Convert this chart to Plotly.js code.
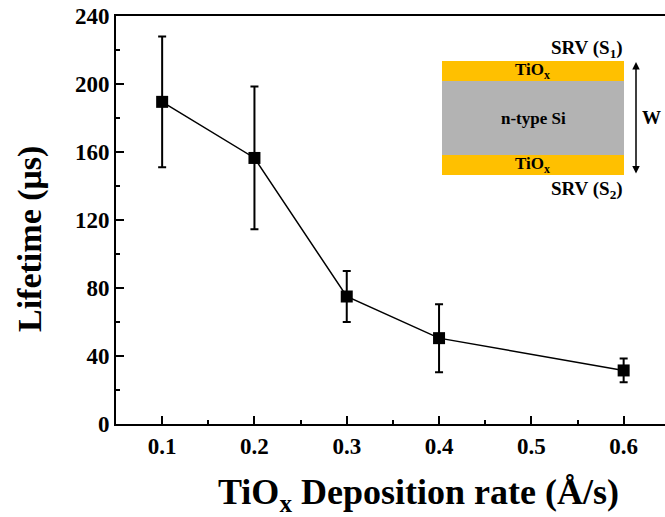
<!DOCTYPE html>
<html>
<head>
<meta charset="utf-8">
<script src="https://cdn.plot.ly/plotly-3.0.1.min.js"></script>
<style>
html,body{margin:0;padding:0;background:#fff;overflow:hidden;}
#chart{width:665px;height:517px;}
</style>
</head>
<body>
<div id="chart"></div>
<script>
// Data
var depositionRate = [0.1, 0.2, 0.3, 0.4, 0.6];
var lifetime = [189.5, 156.5, 75, 50.5, 31.5];
var lifetimeErr = [38.5, 42, 15, 20, 7];
var xTickVals = [0.1, 0.2, 0.3, 0.4, 0.5, 0.6];
var xTickText = ['0.1', '0.2', '0.3', '0.4', '0.5', '0.6'];
var yTickVals = [0, 40, 80, 120, 160, 200, 240];
var yTickText = ['0', '40', '80', '120', '160', '200', '240'];
var xTitle = 'TiO<sub>x</sub> Deposition rate (Å/s)';
var yTitle = 'Lifetime (μs)';

// Layout geometry (pixels)
var W = 665, H = 517;
var mL = 116, mT = 16, mB = 93, mR = 0;
var plotW = W - mL - mR, plotH = H - mT - mB;
function px(x) { return (x - mL) / plotW; }
function py(y) { return (H - mB - y) / plotH; }

var font = '"Liberation Serif", "Times New Roman", serif';
var orange = '#FFC000';
var grey = '#B3B3B3';

var trace = {
  x: depositionRate,
  y: lifetime,
  type: 'scatter',
  mode: 'lines+markers',
  line: {color: '#000', width: 1.5},
  marker: {symbol: 'square', size: 12, color: '#000'},
  error_y: {type: 'data', array: lifetimeErr, visible: true, color: '#000', thickness: 2, width: 4},
  showlegend: false,
  hoverinfo: 'skip'
};

var shapes = [
  {type: 'rect', xref: 'paper', yref: 'paper', x0: px(442), x1: px(624), y0: py(81), y1: py(61), fillcolor: orange, line: {width: 0}},
  {type: 'rect', xref: 'paper', yref: 'paper', x0: px(442), x1: px(624), y0: py(155), y1: py(81), fillcolor: grey, line: {width: 0}},
  {type: 'rect', xref: 'paper', yref: 'paper', x0: px(442), x1: px(624), y0: py(175), y1: py(155), fillcolor: orange, line: {width: 0}}
];

function lab(text, x, y, size, angle) {
  return {xref: 'paper', yref: 'paper', x: px(x), y: py(y), text: text, showarrow: false,
    textangle: angle || 0,
    xanchor: 'center', yanchor: 'middle', font: {family: font, size: size, color: '#000', weight: 'bold'}};
}

var annotations = [
  lab('SRV (S<sub>1</sub>)', 587, 49, 19),
  lab('TiO<sub>x</sub>', 532, 71, 17),
  lab('n-type Si', 533, 118, 17),
  lab('TiO<sub>x</sub>', 532, 165, 17),
  lab('SRV (S<sub>2</sub>)', 587, 190, 19),
  lab('W', 651, 117, 19),
  {xref: 'paper', yref: 'paper', x: px(636), y: py(62), ax: 0, ay: 113, axref: 'pixel', ayref: 'pixel',
   text: '', showarrow: true, arrowhead: 2, arrowside: 'end+start', arrowsize: 1, arrowwidth: 1.5, arrowcolor: '#000'},
  lab(xTitle, 419, 494, 36),
  lab(yTitle, 30, 239, 34, -90)
];

var layout = {
  width: W, height: H,
  margin: {l: mL, r: mR, t: mT, b: mB, pad: 0},
  paper_bgcolor: '#fff', plot_bgcolor: '#fff',
  xaxis: {
    range: [0.05, 0.6448],
    tickvals: xTickVals, ticktext: xTickText,
    ticks: 'inside', ticklen: 8, tickwidth: 2, tickcolor: '#000',
    minor: {dtick: 0.05, tick0: 0.05, ticks: 'inside', ticklen: 4, tickwidth: 2, tickcolor: '#000'},
    showline: true, linewidth: 2, linecolor: '#000', mirror: true,
    showgrid: false, zeroline: false,
    tickfont: {family: font, size: 23, color: '#000', weight: 'bold'}
  },
  yaxis: {
    range: [0, 240],
    tickvals: yTickVals, ticktext: yTickText,
    ticks: 'inside', ticklen: 8, tickwidth: 2, tickcolor: '#000',
    minor: {dtick: 20, tick0: 0, ticks: 'inside', ticklen: 4, tickwidth: 2, tickcolor: '#000'},
    showline: true, linewidth: 2, linecolor: '#000', mirror: false,
    showgrid: false, zeroline: false,
    tickfont: {family: font, size: 23, color: '#000', weight: 'bold'}
  },
  shapes: shapes,
  annotations: annotations
};

Plotly.newPlot('chart', [trace], layout, {displayModeBar: false, staticPlot: true});
</script>
</body>
</html>
